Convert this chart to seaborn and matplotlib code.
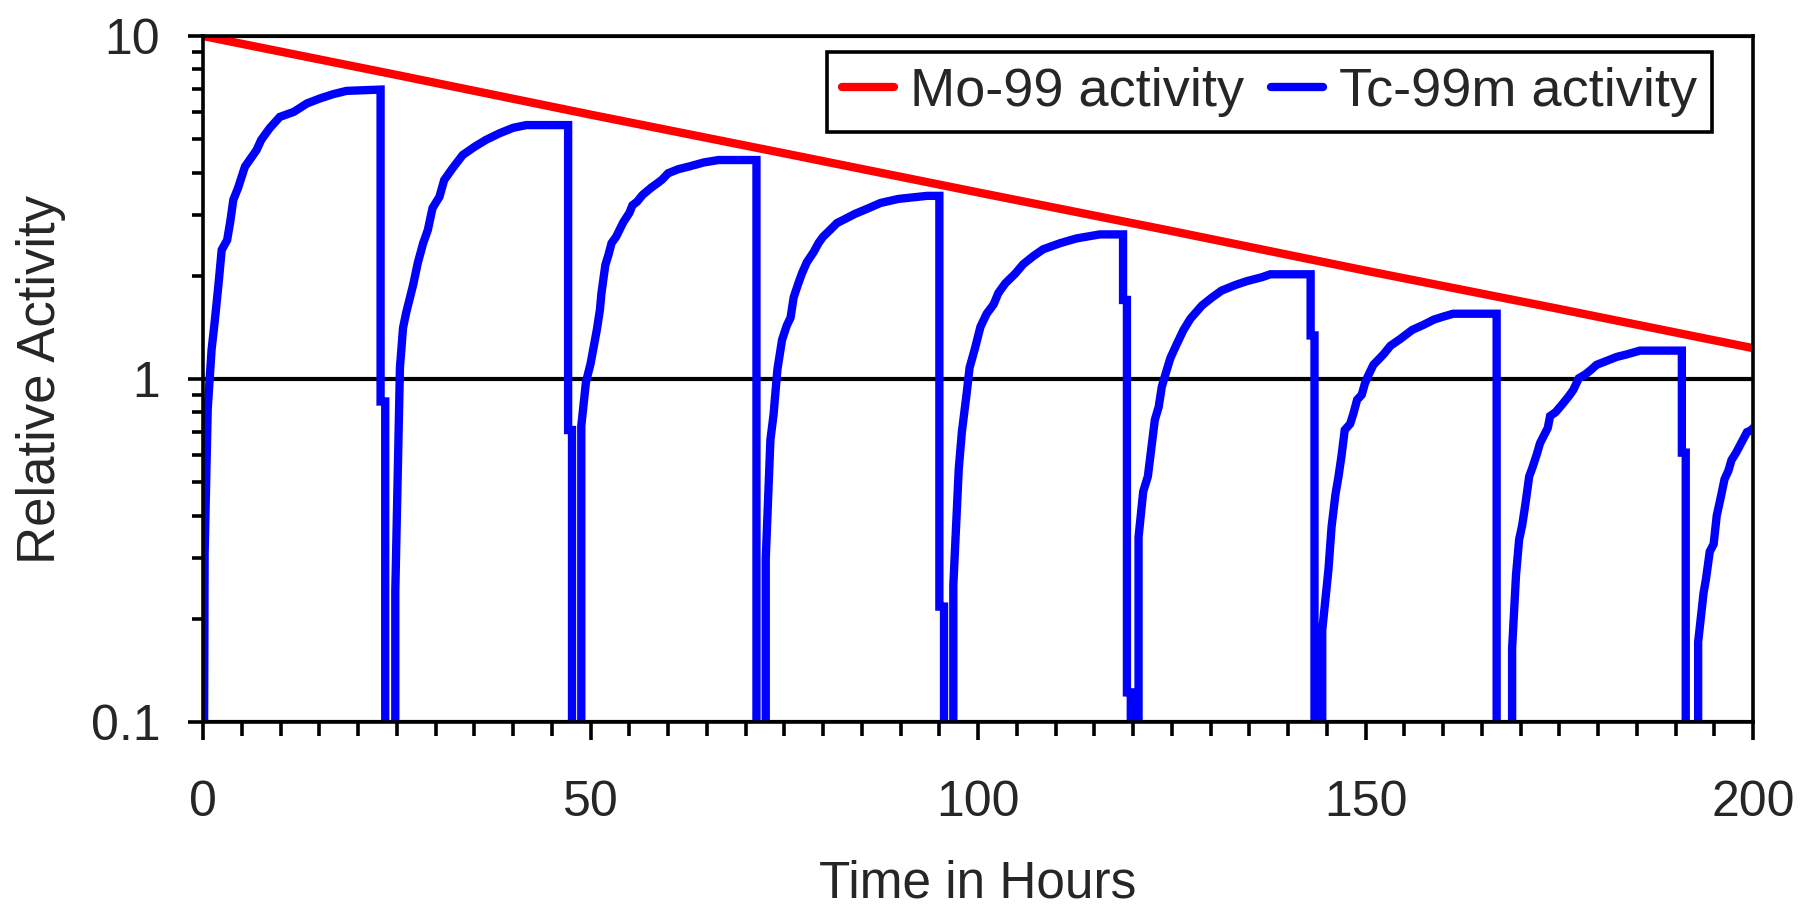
import numpy as np
import pandas as pd
import matplotlib
matplotlib.use('Agg')
import matplotlib.pyplot as plt
import matplotlib.ticker as mticker
import seaborn as sns

# Mo-99 parent activity
mo_hours = [0, 25, 50, 75, 100, 125, 150, 175, 200]
mo_activity = [10.0, 7.7, 5.9, 4.55, 3.5, 2.7, 2.07, 1.6, 1.23]

# Tc-99m daughter activity, one list per elution cycle (0.01 = below the axis)
cycle1_h = [0.0, 0.2, 0.6, 1.1, 1.5, 2.0, 2.4, 3.1, 3.5, 3.9, 4.5, 5.4, 6.0, 6.9, 7.5, 8.6, 9.9,
            11.7, 13.4, 15.1, 16.8, 18.5, 22.9, 22.9, 23.5, 23.5]
cycle1_v = [0.01, 0.31, 0.82, 1.22, 1.47, 1.90, 2.38, 2.54, 2.87, 3.33, 3.60, 4.16, 4.35, 4.65, 4.98, 5.39, 5.81,
            6.01, 6.36, 6.58, 6.77, 6.92, 6.98, 0.86, 0.86, 0.01]

cycle2_h = [24.8, 24.8, 25.4, 25.8, 26.2, 27.1, 27.7, 28.4, 29.0, 29.6, 30.5, 31.1, 32.2, 33.5, 35.0,
            36.5, 38.2, 40.0, 41.7, 47.1, 47.1, 47.6, 47.6]
cycle2_v = [0.01, 0.24, 1.08, 1.41, 1.56, 1.88, 2.18, 2.49, 2.72, 3.15, 3.40, 3.80, 4.12, 4.50, 4.75,
            4.98, 5.20, 5.40, 5.50, 5.50, 0.71, 0.71, 0.01]

cycle3_h = [48.8, 48.8, 49.4, 50.0, 50.8, 51.2, 51.4, 51.9, 52.3, 52.7, 53.3, 54.2, 55.0, 55.4, 56.0,
            56.7, 57.8, 58.6, 59.2, 60.0, 61.3, 62.8, 64.6, 66.5, 71.4, 71.4]
cycle3_v = [0.01, 0.73, 0.98, 1.11, 1.39, 1.59, 1.78, 2.15, 2.30, 2.49, 2.60, 2.86, 3.05, 3.21, 3.29,
            3.44, 3.61, 3.72, 3.81, 3.98, 4.09, 4.17, 4.28, 4.35, 4.35, 0.01]

cycle4_h = [72.6, 72.6, 73.2, 73.6, 74.1, 74.7, 75.3, 75.8, 76.2, 76.8, 77.3, 77.9, 78.8, 79.4, 80.0,
            80.9, 81.8, 82.6, 84.1, 85.6, 87.4, 89.7, 93.4, 95.0, 95.0, 95.6, 95.6]
cycle4_v = [0.01, 0.30, 0.665, 0.785, 1.066, 1.30, 1.43, 1.51, 1.73, 1.90, 2.04, 2.19, 2.35, 2.49, 2.60,
            2.72, 2.85, 2.91, 3.03, 3.13, 3.26, 3.35, 3.42, 3.42, 0.217, 0.217, 0.01]

cycle5_h = [96.8, 96.8, 97.5, 97.9, 98.5, 98.9, 99.6, 100.3, 101.1, 102.0, 102.6, 103.5, 104.8, 105.8,
            107.1, 108.4, 110.6, 112.7, 115.7, 118.7, 118.7, 119.2, 119.2, 119.7, 119.7]
cycle5_v = [0.01, 0.25, 0.547, 0.70, 0.90, 1.08, 1.23, 1.42, 1.55, 1.65, 1.78, 1.90, 2.03, 2.16,
            2.28, 2.39, 2.49, 2.57, 2.64, 2.64, 1.70, 1.70, 0.122, 0.122, 0.01]

cycle6_h = [120.7, 120.7, 121.3, 121.9, 122.4, 122.8, 123.3, 123.7, 124.1, 124.8, 125.6, 126.5, 127.4,
            128.9, 130.2, 131.4, 133.2, 134.7, 136.6, 137.7, 142.9, 142.9, 143.4, 143.4]
cycle6_v = [0.01, 0.346, 0.47, 0.52, 0.64, 0.76, 0.83, 0.95, 1.02, 1.15, 1.26, 1.39, 1.50,
            1.64, 1.73, 1.81, 1.88, 1.93, 1.98, 2.02, 2.02, 1.34, 1.34, 0.01]

cycle7_h = [144.4, 144.4, 145.2, 145.6, 146.1, 146.5, 146.9, 147.3, 148.0, 148.4, 148.9, 149.5, 149.9,
            150.3, 151.0, 152.3, 153.2, 154.5, 156.0, 157.5, 158.8, 160.0, 161.3, 166.9, 166.9]
cycle7_v = [0.01, 0.185, 0.278, 0.37, 0.46, 0.52, 0.60, 0.71, 0.74, 0.79, 0.87, 0.90, 0.97,
            1.02, 1.10, 1.18, 1.25, 1.31, 1.39, 1.44, 1.49, 1.52, 1.55, 1.55, 0.01]

cycle8_h = [168.9, 168.9, 169.4, 169.8, 170.2, 170.6, 171.1, 171.5, 172.1, 172.5, 173.5, 173.8, 174.5,
            175.3, 176.2, 176.8, 177.5, 178.3, 179.0, 179.8, 181.1, 182.4, 183.7, 185.4, 190.8, 190.8,
            191.3, 191.3]
cycle8_v = [0.01, 0.164, 0.268, 0.34, 0.375, 0.43, 0.52, 0.55, 0.605, 0.65, 0.72, 0.78, 0.80,
            0.84, 0.89, 0.93, 1.005, 1.03, 1.06, 1.10, 1.13, 1.16, 1.18, 1.21, 1.21, 0.61,
            0.61, 0.01]

cycle9_h = [192.9, 192.9, 193.6, 193.9, 194.4, 194.9, 195.3, 195.8, 196.3, 196.8, 197.2, 197.8, 198.6,
            199.2, 199.8, 200.0]
cycle9_v = [0.01, 0.171, 0.238, 0.26, 0.314, 0.33, 0.40, 0.45, 0.51, 0.54, 0.58, 0.61, 0.66,
            0.70, 0.71, 0.72]

tc_hours = cycle1_h + cycle2_h + cycle3_h + cycle4_h + cycle5_h + cycle6_h + cycle7_h + cycle8_h + cycle9_h
tc_activity = cycle1_v + cycle2_v + cycle3_v + cycle4_v + cycle5_v + cycle6_v + cycle7_v + cycle8_v + cycle9_v

mo = pd.DataFrame({'hours': mo_hours, 'activity': mo_activity})
tc = pd.DataFrame({'hours': tc_hours, 'activity': tc_activity})

sns.set_style('ticks')
plt.rcParams['font.family'] = ['Liberation Sans', 'DejaVu Sans']

fig = plt.figure(figsize=(18.02, 9.10), dpi=100)
ax = fig.add_axes([0.1127, 0.2066, 0.8602, 0.7538])

sns.lineplot(data=tc, x='hours', y='activity', sort=False, estimator=None, color='#0000ff',
             linewidth=6, ax=ax, label='Tc-99m activity', solid_joinstyle='miter')
sns.lineplot(data=mo, x='hours', y='activity', sort=False, estimator=None, color='#ff0000',
             linewidth=6, ax=ax, label='Mo-99 activity')

ax.set_yscale('log')
ax.set_ylim(0.1, 10)
ax.set_xlim(0, 200)

ax.xaxis.set_major_locator(mticker.MultipleLocator(50))
ax.xaxis.set_minor_locator(mticker.MultipleLocator(5))
ax.yaxis.set_major_locator(mticker.LogLocator(base=10, numticks=10))
ax.yaxis.set_minor_locator(mticker.LogLocator(base=10, subs=np.arange(2, 10), numticks=10))
ax.yaxis.set_major_formatter(mticker.FuncFormatter(lambda v, _: f'{v:g}'))
ax.yaxis.set_minor_formatter(mticker.NullFormatter())

ax.tick_params(axis='x', which='major', length=13, width=2.6, pad=29, labelsize=36, color='black')
ax.tick_params(axis='x', which='minor', length=10, width=2.6, color='black')
ax.tick_params(axis='y', which='major', length=10.8, width=2.6, pad=20, labelsize=36, color='black')
ax.tick_params(axis='y', which='minor', length=8, width=2.6, color='black')

for s in ax.spines.values():
    s.set_visible(True)
    s.set_color('black')
    s.set_linewidth(2.6)

ax.grid(axis='y', which='major', color='black', linewidth=3)
ax.grid(axis='x', visible=False)

ax.set_xlabel('Time in Hours', fontsize=37, labelpad=24)
ax.set_ylabel('Relative Activity', fontsize=38, labelpad=18)

handles, labels = ax.get_legend_handles_labels()
order = [labels.index('Mo-99 activity'), labels.index('Tc-99m activity')]
leg = ax.legend([handles[i] for i in order], [labels[i] for i in order], ncol=2,
                loc='upper right', bbox_to_anchor=(0.9735, 0.9767), borderaxespad=0,
                fontsize=39, frameon=True, fancybox=False, edgecolor='black', framealpha=1,
                handlelength=0.95, handletextpad=0.3, columnspacing=0.5, borderpad=0.28)
leg.get_frame().set_linewidth(2.6)

fig.savefig('out.png', dpi=100)
